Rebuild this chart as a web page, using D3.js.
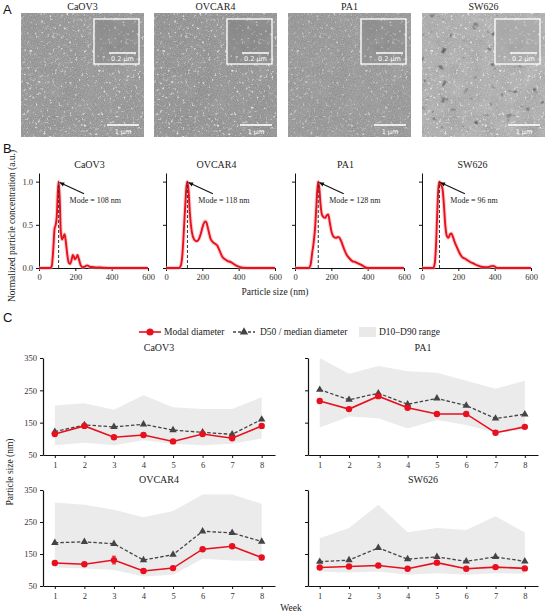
<!DOCTYPE html>
<html lang="en">
<head>
<meta charset="UTF-8">
<title>EV characterisation</title>
<script src="https://d3js.org/d3.v7.min.js"></script>
<style>
  body { margin: 0; background: #fff; }
  svg { display: block; }
  text { font-family: "Liberation Serif", serif; fill: #222; }
  .axis path, .axis line { stroke: #111; }
  .axis text { font-family: "Liberation Serif", serif; font-size: 8.5px; fill: #333; }
</style>
</head>
<body>
<svg id="fig" width="550" height="616"></svg>
<script>
// ---- data ----
const cellLines = ["CaOV3", "OVCAR4", "PA1", "SW626"];

// B: normalized NTA size distributions
const caov3Size  = [0, 60, 70, 78, 86, 92, 98, 103, 108, 114, 120, 127, 134, 141, 148, 156, 164, 172, 180, 186, 192, 198, 205, 212, 220, 230, 242, 255, 265, 278, 300, 340, 400, 600];
const caov3Conc  = [0, 0, 0.02, 0.2, 0.46, 0.5, 0.6, 0.85, 1.0, 0.8, 0.42, 0.33, 0.36, 0.39, 0.3, 0.15, 0.06, 0.05, 0.1, 0.15, 0.13, 0.1, 0.12, 0.15, 0.1, 0.03, 0.01, 0.02, 0.03, 0.015, 0.01, 0.005, 0, 0];
const ovcar4Size = [0, 70, 80, 90, 100, 108, 113, 118, 124, 132, 142, 155, 168, 180, 192, 205, 215, 222, 232, 245, 258, 270, 282, 295, 310, 325, 340, 355, 370, 385, 400, 420, 450, 600];
const ovcar4Conc = [0, 0, 0.02, 0.15, 0.5, 0.8, 0.95, 1.0, 0.9, 0.62, 0.42, 0.33, 0.31, 0.33, 0.4, 0.5, 0.54, 0.53, 0.45, 0.34, 0.3, 0.28, 0.26, 0.2, 0.13, 0.1, 0.08, 0.07, 0.05, 0.03, 0.015, 0.005, 0, 0];
const pa1Size    = [0, 75, 85, 95, 103, 110, 116, 122, 128, 134, 140, 148, 157, 166, 175, 183, 192, 202, 214, 226, 238, 248, 258, 270, 285, 300, 315, 330, 350, 370, 385, 400, 600];
const pa1Conc    = [0, 0, 0.03, 0.18, 0.3, 0.45, 0.65, 0.88, 1.0, 0.92, 0.75, 0.62, 0.59, 0.58, 0.61, 0.62, 0.52, 0.41, 0.36, 0.35, 0.36, 0.34, 0.29, 0.22, 0.15, 0.11, 0.08, 0.07, 0.05, 0.03, 0.01, 0, 0];
const sw626Size  = [0, 62, 70, 78, 85, 90, 96, 102, 108, 114, 120, 128, 137, 146, 154, 162, 170, 180, 192, 205, 220, 235, 250, 265, 285, 305, 325, 345, 365, 380, 392, 405, 420, 600];
const sw626Conc  = [0, 0, 0.05, 0.3, 0.7, 0.92, 1.0, 0.97, 0.95, 0.9, 0.75, 0.5, 0.37, 0.35, 0.39, 0.4, 0.36, 0.3, 0.24, 0.18, 0.13, 0.11, 0.09, 0.07, 0.05, 0.03, 0.015, 0.01, 0.01, 0.02, 0.025, 0.01, 0, 0];
const modes = [108, 118, 128, 96];
const sizeTicks = [0, 200, 400, 600];
const concTicks = [0, 0.5, 1.0];

// C: weekly size stats
const weeks = [1, 2, 3, 4, 5, 6, 7, 8];
const sizeTicksC = [50, 150, 250, 350];
const caov3Modal  = [115, 140, 105, 112, 92, 115, 102, 140];
const caov3D50    = [122, 143, 137, 145, 127, 120, 114, 160];
const caov3D10    = [80, 88, 80, 96, 85, 80, 85, 101];
const caov3D90    = [203, 210, 190, 235, 198, 192, 192, 229];
const pa1Modal    = [217, 192, 232, 196, 177, 177, 119, 137];
const pa1D50      = [252, 221, 241, 207, 225, 203, 163, 176];
const pa1D10      = [135, 169, 164, 132, 158, 143, 119, 127];
const pa1D90      = [350, 301, 325, 309, 304, 280, 255, 280];
const ovcar4Modal = [122, 118, 131, 97, 106, 165, 174, 139];
const ovcar4Err   = [0, 0, 12, 0, 0, 0, 0, 0];
const ovcar4D50   = [185, 188, 182, 131, 148, 221, 216, 189];
const ovcar4D10   = [108, 105, 100, 80, 85, 135, 130, 128];
const ovcar4D90   = [311, 304, 288, 265, 284, 336, 336, 307];
const sw626Modal  = [108, 111, 114, 104, 123, 104, 109, 105];
const sw626D50    = [126, 131, 169, 134, 141, 127, 141, 127];
const sw626D10    = [95, 92, 95, 85, 90, 85, 90, 88];
const sw626D90    = [199, 231, 304, 218, 231, 225, 268, 217];

const svg = d3.select("#fig");
const red = "#e8101e";

function panelLabel(t, x, y) {
    svg.append("text").attr("x", x).attr("y", y).text(t)
        .style("font-family", "'Liberation Sans', Arial, sans-serif").style("font-size", "13px").style("fill", "#111");
}

// ---------- A : micrographs (textured placeholders) ----------
const defs = svg.append("defs");
function grain(id, freq, octaves, seed, alpha) {
    const f = defs.append("filter").attr("id", id).attr("x", 0).attr("y", 0).attr("width", 1).attr("height", 1);
    f.append("feTurbulence").attr("type", "fractalNoise").attr("baseFrequency", freq).attr("numOctaves", octaves).attr("seed", seed);
    f.append("feColorMatrix").attr("type", "saturate").attr("values", 0);
    f.append("feComponentTransfer").append("feFuncA").attr("type", "table").attr("tableValues", alpha);
}
// thresholded noise -> isolated specks (white or black)
function specks(id, freq, seed, rgb, gain, offset) {
    const f = defs.append("filter").attr("id", id).attr("x", 0).attr("y", 0).attr("width", 1).attr("height", 1);
    f.append("feTurbulence").attr("type", "fractalNoise").attr("baseFrequency", freq).attr("numOctaves", 2).attr("seed", seed);
    f.append("feColorMatrix").attr("type", "matrix").attr("values",
        `0 0 0 0 ${rgb}  0 0 0 0 ${rgb}  0 0 0 0 ${rgb}  ${gain} 0 0 0 ${offset}`);
}
grain("fine", 0.9, 2, 4, "0 0.55");
grain("blot", 0.05, 3, 9, "0 0.6");
specks("white", 0.35, 7, 1, 5, -3.1);
specks("dark", 0.12, 11, 0, -5, 1.6);

panelLabel("A", 3, 14);
const imgX = [21, 154, 288, 422];
const imgBg = ["#8a8a8a", "#868686", "#8c8c8c", "#a9a9a9"];
const imgW = 123, imgH = 124, imgY = 13;
cellLines.forEach((name, i) => {
    const g = svg.append("g").attr("transform", `translate(${imgX[i]},${imgY})`);
    g.append("rect").attr("width", imgW).attr("height", imgH).attr("fill", imgBg[i]);
    g.append("rect").attr("width", imgW).attr("height", imgH).attr("filter", "url(#blot)").attr("opacity", i === 3 ? 0.8 : 0.35);
    g.append("rect").attr("width", imgW).attr("height", imgH).attr("filter", "url(#fine)");
    g.append("rect").attr("width", imgW).attr("height", imgH).attr("filter", "url(#white)").attr("opacity", i === 2 ? 0.5 : 0.7);
    if (i === 3) g.append("rect").attr("width", imgW).attr("height", imgH).attr("filter", "url(#dark)").attr("opacity", 0.45);
    // inset
    const ins = g.append("g").attr("transform", "translate(73,6)");
    ins.append("rect").attr("width", 45).attr("height", 45).attr("fill", imgBg[i]);
    ins.append("rect").attr("width", 45).attr("height", 45).attr("filter", "url(#blot)").attr("opacity", 0.6);
    ins.append("rect").attr("width", 45).attr("height", 45).attr("filter", "url(#white)").attr("opacity", 0.5);
    ins.append("rect").attr("width", 45).attr("height", 45).attr("fill", "none").attr("stroke", "#fff").attr("stroke-width", 1.3);
    ins.append("line").attr("x1", 15).attr("x2", 42).attr("y1", 34).attr("y2", 34).attr("stroke", "#fff").attr("stroke-width", 1.5);
    ins.append("text").attr("x", 28.5).attr("y", 42).attr("text-anchor", "middle").text("0.2 µm")
        .style("font-family", "'DejaVu Sans', sans-serif").style("font-size", "6.5px").style("fill", "#fff");
    // main scale bar
    g.append("line").attr("x1", 86).attr("x2", 118).attr("y1", 112).attr("y2", 112).attr("stroke", "#fff").attr("stroke-width", 1.6);
    g.append("text").attr("x", 102).attr("y", 121).attr("text-anchor", "middle").text("1 µm")
        .style("font-family", "'DejaVu Sans', sans-serif").style("font-size", "6.5px").style("fill", "#fff");
    svg.append("text").attr("x", imgX[i] + imgW / 2).attr("y", 10).attr("text-anchor", "middle")
        .style("font-size", "10px").text(name);
});

// ---------- B : size distributions ----------
panelLabel("B", 3, 153);
const distSize = [caov3Size, ovcar4Size, pa1Size, sw626Size];
const distConc = [caov3Conc, ovcar4Conc, pa1Conc, sw626Conc];
const bX = [39, 166, 295, 422], bW = 109, bTop = 173, bBottom = 268;

cellLines.forEach((name, i) => {
    const x = d3.scaleLinear().domain([0, 600]).range([bX[i], bX[i] + bW]);
    const y = d3.scaleLinear().domain([0, 1.1]).range([bBottom, bTop]);
    const pts = distSize[i].map((s, k) => [s, distConc[i][k]]);

    svg.append("g").attr("class", "axis").attr("transform", `translate(0,${bBottom})`)
        .call(d3.axisBottom(x).tickValues(sizeTicks).tickSize(3).tickSizeOuter(0));
    const ya = svg.append("g").attr("class", "axis").attr("transform", `translate(${bX[i]},0)`)
        .call(d3.axisLeft(y).tickValues(concTicks).tickSize(3).tickSizeOuter(0).tickFormat(d3.format(".1f")));
    if (i > 0) ya.selectAll("text").remove();

    const line = d3.line().x(d => x(d[0])).y(d => y(d[1])).curve(d3.curveMonotoneX);
    svg.append("path").datum(pts).attr("d", line).attr("fill", "none")
        .attr("stroke", "#f4a0a0").attr("stroke-width", 4).attr("opacity", 0.5);
    svg.append("path").datum(pts).attr("d", line).attr("fill", "none")
        .attr("stroke", red).attr("stroke-width", 1.9).attr("stroke-linejoin", "round");

    svg.append("line").attr("x1", x(modes[i])).attr("x2", x(modes[i]))
        .attr("y1", y(0)).attr("y2", y(1.0)).attr("stroke", "#333").attr("stroke-width", 1)
        .attr("stroke-dasharray", "3,2");

    // arrow + label
    const ax1 = x(modes[i] + 140), ay1 = y(0.86), ax2 = x(modes[i] + 6), ay2 = y(0.99);
    svg.append("line").attr("x1", ax1).attr("y1", ay1).attr("x2", ax2).attr("y2", ay2)
        .attr("stroke", "#111").attr("stroke-width", 1.1);
    const ang = Math.atan2(ay2 - ay1, ax2 - ax1);
    const hl = 4.5, hw = 2.2;
    const hx = ax2 - hl * Math.cos(ang), hy = ay2 - hl * Math.sin(ang);
    svg.append("path").attr("fill", "#111").attr("d",
        `M${ax2},${ay2}L${hx + hw * Math.sin(ang)},${hy - hw * Math.cos(ang)}L${hx - hw * Math.sin(ang)},${hy + hw * Math.cos(ang)}Z`);
    svg.append("text").attr("x", x(modes[i] + 60)).attr("y", y(0.75))
        .style("font-size", "8px").text(`Mode = ${modes[i]} nm`);

    svg.append("text").attr("x", bX[i] + bW / 2 - 4).attr("y", 168).attr("text-anchor", "middle")
        .style("font-size", "10px").text(name);
});
svg.append("text").attr("transform", "translate(15,226) rotate(-90)").attr("text-anchor", "middle")
    .style("font-size", "9.5px").text("Normalized particle concentration (a.u.)");
svg.append("text").attr("x", 275).attr("y", 295).attr("text-anchor", "middle")
    .style("font-size", "9.5px").text("Particle size (nm)");

// ---------- C : weekly stats ----------
panelLabel("C", 3, 322);

// legend
const lg = svg.append("g");
lg.append("line").attr("x1", 139).attr("x2", 161).attr("y1", 332).attr("y2", 332).attr("stroke", red).attr("stroke-width", 1.6);
lg.append("circle").attr("cx", 150).attr("cy", 332).attr("r", 3.6).attr("fill", red);
lg.append("text").attr("x", 164).attr("y", 335).style("font-size", "9.5px").text("Modal diameter");
lg.append("line").attr("x1", 233).attr("x2", 255).attr("y1", 332).attr("y2", 332).attr("stroke", "#444")
    .attr("stroke-width", 1.3).attr("stroke-dasharray", "3,2");
lg.append("path").attr("d", d3.symbol(d3.symbolTriangle, 30)()).attr("transform", "translate(244,332)").attr("fill", "#444");
lg.append("text").attr("x", 260).attr("y", 335).style("font-size", "9.5px").text("D50 / median diameter");
lg.append("rect").attr("x", 359).attr("y", 327).attr("width", 17).attr("height", 10).attr("fill", "#e9e9e9");
lg.append("text").attr("x", 379).attr("y", 335).style("font-size", "9.5px").text("D10–D90 range");

const cPanels = [
    { name: "CaOV3",  modal: caov3Modal,  err: null,       d50: caov3D50,  d10: caov3D10,  d90: caov3D90,  x0: 43,  x1: 275, top: 358, bottom: 455, labels: true },
    { name: "PA1",    modal: pa1Modal,    err: null,       d50: pa1D50,    d10: pa1D10,    d90: pa1D90,    x0: 308, x1: 538, top: 358, bottom: 455, labels: false },
    { name: "OVCAR4", modal: ovcar4Modal, err: ovcar4Err,  d50: ovcar4D50, d10: ovcar4D10, d90: ovcar4D90, x0: 43,  x1: 275, top: 490, bottom: 586, labels: true },
    { name: "SW626",  modal: sw626Modal,  err: null,       d50: sw626D50,  d10: sw626D10,  d90: sw626D90,  x0: 308, x1: 538, top: 490, bottom: 586, labels: false }
];

cPanels.forEach(p => {
    const x = d3.scaleLinear().domain([0.6, 8.45]).range([p.x0, p.x1]);
    const y = d3.scaleLinear().domain([50, 350]).range([p.bottom, p.top]);

    const area = d3.area().x((d, i) => x(weeks[i])).y0((d, i) => y(p.d10[i])).y1(d => y(d));
    svg.append("path").datum(p.d90).attr("d", area).attr("fill", "#ebebeb");

    svg.append("g").attr("class", "axis").attr("transform", `translate(0,${p.bottom})`)
        .call(d3.axisBottom(x).tickValues(weeks).tickSize(3).tickSizeOuter(0).tickPadding(4))
        .select(".domain").attr("stroke-width", 1.2);
    const ya = svg.append("g").attr("class", "axis").attr("transform", `translate(${p.x0},0)`)
        .call(d3.axisLeft(y).tickValues(sizeTicksC).tickSize(3).tickSizeOuter(0));
    ya.select(".domain").attr("stroke-width", 1.2);
    if (!p.labels) ya.selectAll("text").remove();

    const d50Line = d3.line().x((d, i) => x(weeks[i])).y(d => y(d));
    svg.append("path").datum(p.d50).attr("d", d50Line).attr("fill", "none")
        .attr("stroke", "#444").attr("stroke-width", 1.3).attr("stroke-dasharray", "3.5,2");
    svg.selectAll(null).data(p.d50).enter().append("path")
        .attr("d", d3.symbol(d3.symbolTriangle, 24)())
        .attr("transform", (d, i) => `translate(${x(weeks[i])},${y(d)})`)
        .attr("fill", "#444");

    if (p.err) {
        p.err.forEach((e, i) => {
            if (!e) return;
            const cx = x(weeks[i]);
            svg.append("line").attr("x1", cx).attr("x2", cx).attr("y1", y(p.modal[i] - e)).attr("y2", y(p.modal[i] + e))
                .attr("stroke", red).attr("stroke-width", 1);
            [p.modal[i] - e, p.modal[i] + e].forEach(v => svg.append("line").attr("x1", cx - 2).attr("x2", cx + 2)
                .attr("y1", y(v)).attr("y2", y(v)).attr("stroke", red).attr("stroke-width", 1));
        });
    }
    svg.append("path").datum(p.modal).attr("d", d50Line).attr("fill", "none")
        .attr("stroke", red).attr("stroke-width", 1.6);
    svg.selectAll(null).data(p.modal).enter().append("circle")
        .attr("cx", (d, i) => x(weeks[i])).attr("cy", d => y(d)).attr("r", 3.2).attr("fill", red);

    svg.append("text").attr("x", (p.x0 + p.x1) / 2).attr("y", p.top - 7).attr("text-anchor", "middle")
        .style("font-size", "10px").text(p.name);
});

svg.append("text").attr("transform", "translate(13,472) rotate(-90)").attr("text-anchor", "middle")
    .style("font-size", "9.5px").text("Particle size (nm)");
svg.append("text").attr("x", 291).attr("y", 611).attr("text-anchor", "middle")
    .style("font-size", "9.5px").text("Week");
</script>
</body>
</html>
